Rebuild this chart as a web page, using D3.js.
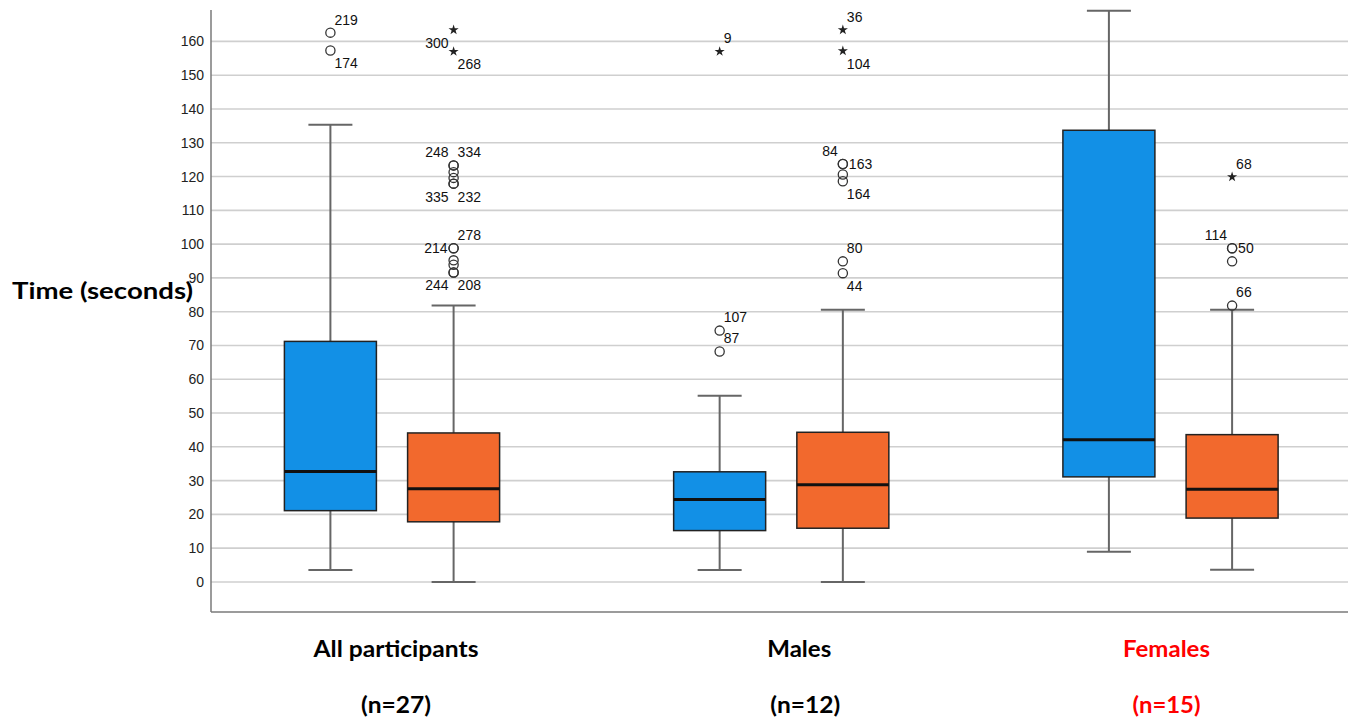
<!DOCTYPE html>
<html>
<head>
<meta charset="utf-8">
<script src="https://cdn.jsdelivr.net/npm/d3@7/dist/d3.min.js"></script>
<style>
  html, body { margin: 0; padding: 0; background: #fff; }
  svg { display: block; }
</style>
</head>
<body>
<svg id="chart" width="1348" height="724"></svg>
<script>
// Groups along the x axis and their sample sizes
const groups = ["All participants", "Males", "Females"];
const sampleSizes = ["(n=27)", "(n=12)", "(n=15)"];
const groupColors = ["#000000", "#000000", "#ff0000"];

// Two measurements per group
const series = ["Measure 1", "Measure 2"];
const seriesFill = ["#1290e6", "#f2692d"];

// Box summaries (seconds), one value per group
const blueLow    = [3.5, 3.5, 8.9];
const blueQ1     = [21.1, 15.2, 31.1];
const blueMedian = [32.7, 24.4, 42.1];
const blueQ3     = [71.2, 32.6, 133.7];
const blueHigh   = [135.3, 55.1, 169.1];

const orangeLow    = [0, 0, 3.6];
const orangeQ1     = [17.8, 15.9, 18.9];
const orangeMedian = [27.6, 28.8, 27.4];
const orangeQ3     = [44.1, 44.3, 43.6];
const orangeHigh   = [81.8, 80.6, 80.6];

// Outlying cases: [group index, series index, case id, value, marker, label side]
const outliers = [
  [0, 0, "219", 162.6, "o", "ne"],
  [0, 0, "174", 157.3, "o", "se"],
  [0, 1, "300", 163.4, "*", "sw"],
  [0, 1, "268", 157.0, "*", "se"],
  [0, 1, "248", 123.3, "o", "nw"],
  [0, 1, "334", 123.3, "o", "ne"],
  [0, 1, null,  121.3, "o", null],
  [0, 1, null,  119.6, "o", null],
  [0, 1, "335", 117.9, "o", "sw"],
  [0, 1, "232", 117.9, "o", "se"],
  [0, 1, "214", 98.8, "o", "w"],
  [0, 1, "278", 98.8, "o", "ne"],
  [0, 1, null,  95.2, "o", null],
  [0, 1, null,  93.9, "o", null],
  [0, 1, "244", 91.6, "o", "sw"],
  [0, 1, "208", 91.6, "o", "se"],
  [1, 0, "9",   157.0, "*", "ne"],
  [1, 0, "107", 74.4, "o", "ne"],
  [1, 0, "87",  68.2, "o", "ne"],
  [1, 1, "36",  163.4, "*", "ne"],
  [1, 1, "104", 157.2, "*", "se"],
  [1, 1, "84",  123.7, "o", "nw"],
  [1, 1, "163", 123.7, "o", "e"],
  [1, 1, null,  120.6, "o", null],
  [1, 1, "164", 118.6, "o", "se"],
  [1, 1, "80",  94.9, "o", "ne"],
  [1, 1, "44",  91.4, "o", "se"],
  [2, 1, "68",  119.9, "*", "ne"],
  [2, 1, "114", 98.8, "o", "nw"],
  [2, 1, "50",  98.8, "o", "e"],
  [2, 1, null,  94.9, "o", null],
  [2, 1, "66",  81.8, "o", "ne"]
];

// Y ticks
const yTicks = [0, 10, 20, 30, 40, 50, 60, 70, 80, 90, 100, 110, 120, 130, 140, 150, 160];

const svg = d3.select("#chart");
const plot = { left: 211, right: 1348, top: 10, bottom: 612 };

const y = d3.scaleLinear().domain([-8.9, 169.3]).range([plot.bottom, plot.top]);
const x = d3.scalePoint().domain(groups).range([392, 1170.5]);
const xs = d3.scalePoint().domain(series).range([-61.6, 61.6]);
const boxW = 92, capW = 44;

// Gridlines
svg.append("g").selectAll("line").data(yTicks).join("line")
  .attr("x1", plot.left).attr("x2", plot.right)
  .attr("y1", d => y(d)).attr("y2", d => y(d))
  .attr("stroke", "#cfcfcf").attr("stroke-width", 1.6);

// Y axis with labels
const yAxis = d3.axisLeft(y).tickValues(yTicks).tickSize(0).tickPadding(7);
const gy = svg.append("g").attr("transform", `translate(${plot.left},0)`).call(yAxis);
gy.select(".domain").remove();
gy.selectAll("text")
  .attr("font-family", "'Liberation Sans', Arial, sans-serif")
  .attr("font-size", 14).attr("fill", "#222");

// Axis lines
svg.append("line").attr("x1", plot.left).attr("x2", plot.left)
  .attr("y1", plot.top).attr("y2", plot.bottom)
  .attr("stroke", "#7a7a7a").attr("stroke-width", 1.5);
svg.append("line").attr("x1", plot.left).attr("x2", plot.right)
  .attr("y1", plot.bottom).attr("y2", plot.bottom)
  .attr("stroke", "#7a7a7a").attr("stroke-width", 1.5);

// Assemble box records
const boxes = [];
groups.forEach((g, i) => {
  boxes.push({ g, s: series[0], fill: seriesFill[0], low: blueLow[i], q1: blueQ1[i], med: blueMedian[i], q3: blueQ3[i], high: blueHigh[i] });
  boxes.push({ g, s: series[1], fill: seriesFill[1], low: orangeLow[i], q1: orangeQ1[i], med: orangeMedian[i], q3: orangeQ3[i], high: orangeHigh[i] });
});
const cx = b => x(b.g) + xs(b.s);

const bx = svg.append("g").selectAll("g").data(boxes).join("g");
// whisker stems
bx.append("line").attr("x1", cx).attr("x2", cx)
  .attr("y1", d => y(d.high)).attr("y2", d => y(d.q3))
  .attr("stroke", "#666").attr("stroke-width", 2);
bx.append("line").attr("x1", cx).attr("x2", cx)
  .attr("y1", d => y(d.q1)).attr("y2", d => y(d.low))
  .attr("stroke", "#666").attr("stroke-width", 2);
// caps
bx.append("line").attr("x1", d => cx(d) - capW / 2).attr("x2", d => cx(d) + capW / 2)
  .attr("y1", d => y(d.high)).attr("y2", d => y(d.high))
  .attr("stroke", "#666").attr("stroke-width", 2);
bx.append("line").attr("x1", d => cx(d) - capW / 2).attr("x2", d => cx(d) + capW / 2)
  .attr("y1", d => y(d.low)).attr("y2", d => y(d.low))
  .attr("stroke", "#666").attr("stroke-width", 2);
// boxes
bx.append("rect")
  .attr("x", d => cx(d) - boxW / 2).attr("width", boxW)
  .attr("y", d => y(d.q3)).attr("height", d => y(d.q1) - y(d.q3))
  .attr("fill", d => d.fill).attr("stroke", "#222").attr("stroke-width", 1.5);
// medians
bx.append("line").attr("x1", d => cx(d) - boxW / 2).attr("x2", d => cx(d) + boxW / 2)
  .attr("y1", d => y(d.med)).attr("y2", d => y(d.med))
  .attr("stroke", "#111").attr("stroke-width", 3);

// Outlier markers and case labels
const labelOffset = {
  ne: [4, -13, "start"], nw: [-5, -13, "end"],
  se: [4, 13, "start"],  sw: [-5, 13, "end"],
  e:  [6, 0, "start"],   w:  [-6, 0, "end"]
};
const og = svg.append("g");
const star = d3.symbol().type(d3.symbolStar).size(32);
outliers.forEach(([gi, si, id, v, kind, side]) => {
  const px = x(groups[gi]) + xs(series[si]);
  const py = y(v);
  if (kind === "o") {
    og.append("circle").attr("cx", px).attr("cy", py).attr("r", 4.6)
      .attr("fill", "none").attr("stroke", "#333").attr("stroke-width", 1.3);
  } else {
    og.append("path").attr("d", star).attr("transform", `translate(${px},${py})`)
      .attr("fill", "#222");
  }
  if (id && side) {
    const [dx, dy, anchor] = labelOffset[side];
    og.append("text").attr("x", px + dx).attr("y", py + dy)
      .attr("dy", "0.35em").attr("text-anchor", anchor)
      .attr("font-family", "'Liberation Sans', Arial, sans-serif")
      .attr("font-size", 14).attr("fill", "#111").text(id);
  }
});

// Y title
svg.append("text").attr("x", 12).attr("y", 299)
  .attr("font-family", "Lato, 'Open Sans', sans-serif").attr("font-weight", 700)
  .attr("font-size", 22).attr("fill", "#000")
  .attr("textLength", 181).attr("lengthAdjust", "spacingAndGlyphs")
  .text("Time (seconds)");

// Group labels
const labelShift = [4, 18, -4];
const nameWidths = [165, 64, 87];
const nWidths = [70, 70, 68];
const lab = svg.append("g").attr("font-family", "Lato, 'Open Sans', sans-serif")
  .attr("font-weight", 700).attr("font-size", 22).attr("text-anchor", "middle");
groups.forEach((g, i) => {
  lab.append("text").attr("x", x(g) + labelShift[i]).attr("y", 657)
    .attr("fill", groupColors[i])
    .attr("textLength", nameWidths[i]).attr("lengthAdjust", "spacingAndGlyphs")
    .text(g);
  lab.append("text").attr("x", x(g) + labelShift[i] + (i === 1 ? 6 : 0)).attr("y", 713)
    .attr("fill", groupColors[i])
    .attr("textLength", nWidths[i]).attr("lengthAdjust", "spacingAndGlyphs")
    .text(sampleSizes[i]);
});
</script>
</body>
</html>
